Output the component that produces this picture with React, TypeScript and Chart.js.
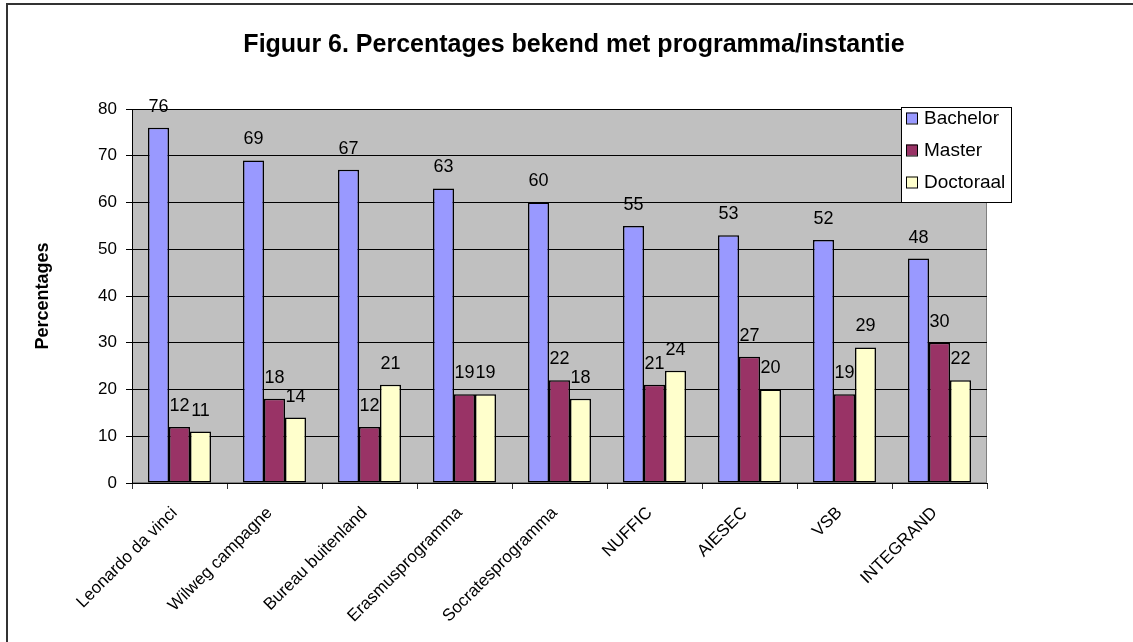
import React, { useEffect, useRef } from "react";
import { Chart, registerables } from "chart.js";

Chart.register(...registerables);

const categories = [
  "Leonardo da vinci",
  "Wilweg campagne",
  "Bureau buitenland",
  "Erasmusprogramma",
  "Socratesprogramma",
  "NUFFIC",
  "AIESEC",
  "VSB",
  "INTEGRAND",
];
const seriesNames = ["Bachelor", "Master", "Doctoraal"];
const bachelor = [76, 69, 67, 63, 60, 55, 53, 52, 48];
const master = [12, 18, 12, 19, 22, 21, 27, 19, 30];
const doctoraal = [11, 14, 21, 19, 18, 24, 20, 29, 22];
const seriesColors = ["#9999FF", "#993366", "#FFFFCC"];
const yMin = 0;
const yMax = 80;
const yStep = 10;
const titleText = "Figuur 6. Percentages bekend met programma/instantie";
const yAxisTitle = "Percentages";

const FONT = "'Liberation Sans', Arial, sans-serif";

const decorPlugin = {
  id: "decor",
  beforeDraw(chart: any) {
    const ctx = chart.ctx as CanvasRenderingContext2D;
    const { left, top, right, bottom } = chart.chartArea;
    ctx.save();
    ctx.fillStyle = "#ffffff";
    ctx.fillRect(0, 0, chart.width, chart.height);
    // outer frame (top and left visible)
    ctx.fillStyle = "#333333";
    ctx.fillRect(6, 3, 2, chart.height - 3);
    ctx.fillRect(6, 3, chart.width - 6, 2);
    // plot area
    ctx.fillStyle = "#C0C0C0";
    ctx.fillRect(left, top, right - left, bottom - top);
    ctx.strokeStyle = "#808080";
    ctx.lineWidth = 1;
    ctx.strokeRect(left + 0.5, top + 0.5, right - left - 1, bottom - top - 1);
    // title
    ctx.fillStyle = "#000";
    ctx.font = `bold 25px ${FONT}`;
    ctx.textAlign = "center";
    ctx.textBaseline = "middle";
    ctx.fillText(titleText, 574, 45);
    ctx.restore();
  },
  afterDatasetsDraw(chart: any) {
    const ctx = chart.ctx as CanvasRenderingContext2D;
    ctx.save();
    ctx.fillStyle = "#000";
    ctx.font = `18px ${FONT}`;
    ctx.textAlign = "center";
    ctx.textBaseline = "middle";
    chart.data.datasets.forEach((ds: any, i: number) => {
      const meta = chart.getDatasetMeta(i);
      meta.data.forEach((el: any, j: number) => {
        ctx.fillText(String(ds.data[j]), el.x, el.y - 21);
      });
    });
    // legend
    const bx = 901, by = 107, bw = 111, bh = 96;
    ctx.fillStyle = "#fff";
    ctx.fillRect(bx, by, bw, bh);
    ctx.strokeStyle = "#000";
    ctx.lineWidth = 1;
    ctx.strokeRect(bx + 0.5, by + 0.5, bw - 1, bh - 1);
    ctx.textAlign = "left";
    ctx.font = `19px ${FONT}`;
    chart.data.datasets.forEach((ds: any, i: number) => {
      const cy = 118 + i * 32;
      ctx.fillStyle = ds.backgroundColor;
      ctx.fillRect(906, cy - 5.5, 11, 11);
      ctx.strokeStyle = "#000";
      ctx.strokeRect(906.5, cy - 5, 11, 11);
      ctx.fillStyle = "#000";
      ctx.fillText(ds.label, 924, cy + 1);
    });
    ctx.restore();
  },
};

export default function App() {
  const ref = useRef<HTMLCanvasElement>(null);
  useEffect(() => {
    const values = [bachelor, master, doctoraal];
    const chart = new Chart(ref.current as HTMLCanvasElement, {
      type: "bar",
      data: {
        labels: categories,
        datasets: seriesNames.map((name, i) => ({
          label: name,
          data: values[i],
          backgroundColor: seriesColors[i],
          borderColor: "#000",
          borderWidth: 1.5,
          borderSkipped: false,
          categoryPercentage: 0.663,
          barPercentage: 1,
        })),
      },
      options: {
        responsive: false,
        animation: false,
        devicePixelRatio: 1,
        layout: { padding: { top: 109, right: 146, left: 0, bottom: 0 } },
        plugins: {
          legend: { display: false },
          title: { display: false },
          tooltip: { enabled: false },
        },
        scales: {
          x: {
            grid: {
              offset: true,
              drawOnChartArea: false,
              drawTicks: true,
              tickLength: 6,
              color: "#333",
            },
            border: { color: "#000" },
            ticks: {
              autoSkip: false,
              minRotation: 45,
              maxRotation: 45,
              padding: 14,
              labelOffset: -5,
              color: "#000",
              font: { family: FONT, size: 17 },
            },
            afterFit: (s: any) => {
              s.height = 159;
            },
          },
          y: {
            min: yMin,
            max: yMax,
            ticks: {
              stepSize: yStep,
              padding: 9,
              color: "#000",
              font: { family: FONT, size: 17 },
            },
            grid: { color: "#000", tickLength: 6 },
            border: { color: "#000" },
            title: {
              display: true,
              text: yAxisTitle,
              color: "#000",
              font: { family: FONT, size: 18, weight: "bold" },
              padding: { top: 32, bottom: 0 },
            },
            afterFit: (s: any) => {
              s.width = 132;
            },
          },
        },
      },
      plugins: [decorPlugin],
    } as any);
    return () => chart.destroy();
  }, []);
  return (
    <div style={{ position: "absolute", left: 0, top: 0, width: 1133, height: 642 }}>
      <canvas ref={ref} width={1133} height={642} style={{ display: "block", width: 1133, height: 642 }} />
    </div>
  );
}
